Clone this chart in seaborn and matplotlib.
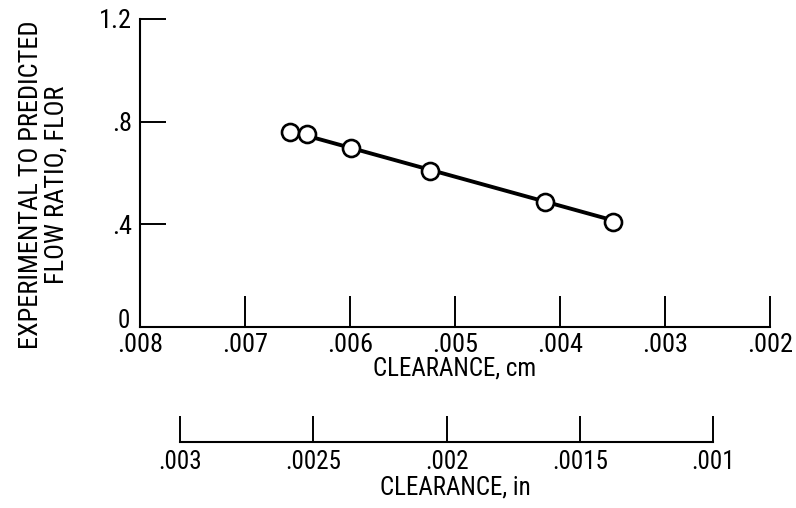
import matplotlib
matplotlib.use("Agg")
import matplotlib.pyplot as plt
import matplotlib.transforms as mtransforms
import seaborn as sns
import pandas as pd

# Measured points: clearance (cm) vs experimental-to-predicted flow ratio
clearance_cm = [0.00657, 0.00641, 0.00599, 0.00524, 0.00414, 0.00350]
flow_ratio = [0.761, 0.751, 0.698, 0.608, 0.486, 0.410]

# Straight-line fit through the data
fit_clearance_cm = [0.00641, 0.00350]
fit_flow_ratio = [0.745, 0.416]

cm_ticks = [0.008, 0.007, 0.006, 0.005, 0.004, 0.003, 0.002]
cm_tick_labels = [".008", ".007", ".006", ".005", ".004", ".003", ".002"]
in_ticks = [0.003, 0.0025, 0.002, 0.0015, 0.001]
in_tick_labels = [".003", ".0025", ".002", ".0015", ".001"]
ratio_ticks = [0, 0.4, 0.8, 1.2]
ratio_tick_labels = ["0", ".4", ".8", "1.2"]

CM_PER_IN = 2.54

sns.set_theme(style="ticks", rc={
    "axes.edgecolor": "black",
    "text.color": "black",
    "axes.labelcolor": "black",
    "xtick.color": "black",
    "ytick.color": "black",
})
plt.rcParams["font.family"] = ["Roboto Condensed", "Liberation Sans", "DejaVu Sans"]

W, H = 796, 508
fig = plt.figure(figsize=(W / 100, H / 100), dpi=100)
fig.patch.set_facecolor("white")

# Main axes (cm scale)
ax = fig.add_axes([140 / W, 1 - 327 / H, 630 / W, 308 / H])
ax.patch.set_visible(False)

points = pd.DataFrame({"clearance": clearance_cm, "ratio": flow_ratio})
fit = pd.DataFrame({"clearance": fit_clearance_cm, "ratio": fit_flow_ratio})

sns.lineplot(data=fit, x="clearance", y="ratio", ax=ax, color="black",
             linewidth=2.8, zorder=2)
sns.scatterplot(data=points, x="clearance", y="ratio", ax=ax, s=150,
                facecolor="white", edgecolor="black", linewidth=1.9,
                zorder=3, clip_on=False)

ax.set_xlim(0.008, 0.002)
ax.set_ylim(0, 1.2)
ax.set_xticks(cm_ticks, cm_tick_labels)
ax.set_yticks(ratio_ticks, ratio_tick_labels)
ax.tick_params(axis="x", direction="in", length=22, width=1.4, pad=4,
               labelsize=19)
ax.tick_params(axis="y", direction="in", length=19, width=1.4, pad=6,
               labelsize=19)
for side in ("top", "right"):
    ax.spines[side].set_visible(False)
for side in ("left", "bottom"):
    ax.spines[side].set_linewidth(1.5)
ax.set_xlabel("CLEARANCE, cm", fontsize=18, labelpad=0)
ax.set_ylabel("")

# Lift the zero label clear of the first x tick label
zero_label = ax.get_yticklabels()[0]
zero_label.set_fontsize(18)
zero_label.set_transform(zero_label.get_transform()
                         + mtransforms.ScaledTranslation(-2 / 100, 9 / 100, fig.dpi_scale_trans))

fig.text(44 / W, 1 - 185 / H, "EXPERIMENTAL TO PREDICTED\nFLOW RATIO, FLOR",
         rotation=90, ha="center", va="center", fontsize=19,
         linespacing=1.1)

# Secondary scale in inches
ax2 = fig.add_axes([140 / W, 1 - 442 / H, 630 / W, 40 / H])
ax2.patch.set_visible(False)
ax2.set_xlim(0.008 / CM_PER_IN, 0.002 / CM_PER_IN)
ax2.set_ylim(0, 1)
for side in ("top", "right", "left"):
    ax2.spines[side].set_visible(False)
ax2.spines["bottom"].set_bounds(in_ticks[0], in_ticks[-1])
ax2.spines["bottom"].set_linewidth(1.5)
ax2.set_yticks([])
ax2.set_xticks(in_ticks, in_tick_labels)
ax2.tick_params(axis="x", direction="in", length=19, width=1.4, pad=6,
                labelsize=18)
ax2.set_xlabel("CLEARANCE, in", fontsize=18, labelpad=1)

fig.savefig("out.png", dpi=100, facecolor="white")
